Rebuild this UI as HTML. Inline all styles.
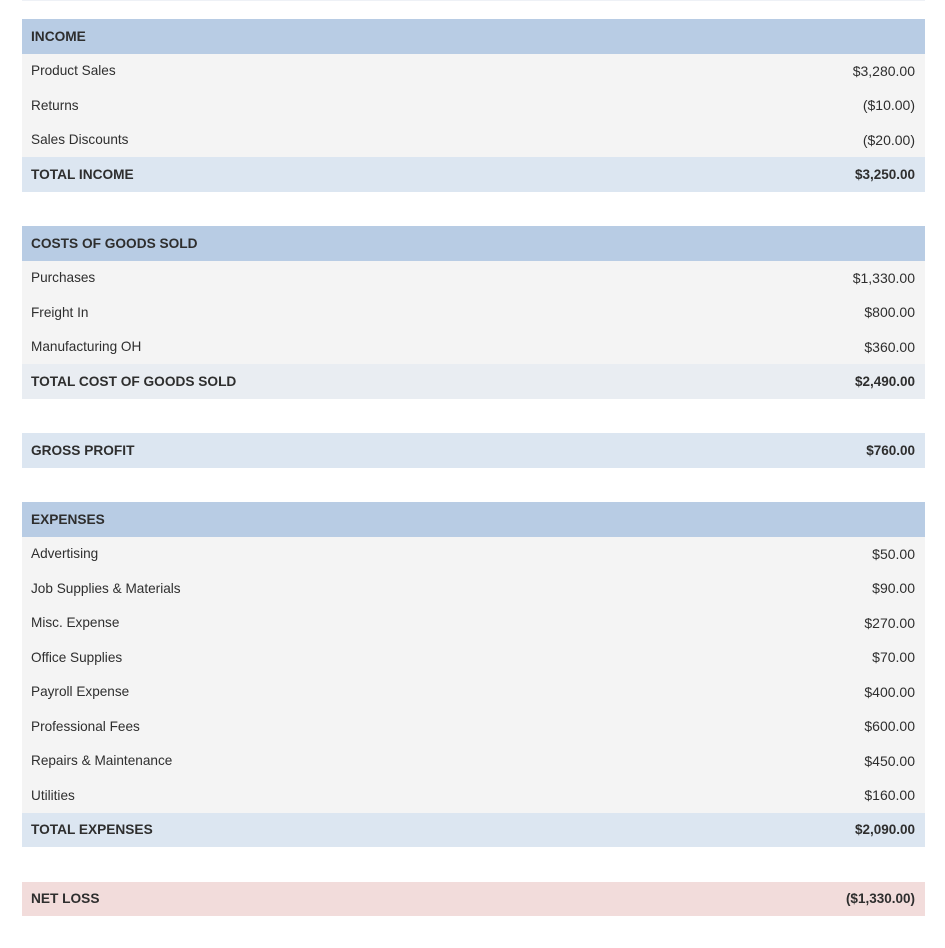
<!DOCTYPE html>
<html>
<head>
<meta charset="utf-8">
<style>
  html, body { margin:0; padding:0; background:#ffffff; }
  body { width:945px; height:948px; position:relative; overflow:hidden;
         font-family:"Liberation Sans", "DejaVu Sans", sans-serif; color:#2e2e2e; }
  .topline { position:absolute; left:22px; top:0; width:903px; height:1px; background:#eef1f6; }
  .tbl { position:absolute; left:22px; top:19px; width:903px; }
  .row { height:34.5px; display:flex; align-items:center; justify-content:space-between;
         padding:0 10px 0 9px; box-sizing:border-box; font-size:13.6px; background:#f4f4f4; }
  .row span:last-child { font-size:14px; }
  .hdr { background:#b8cce4; font-weight:bold; font-size:13.7px; }
  .tot { background:#dce6f1; font-weight:bold; font-size:13.7px; }
  .tot span:last-child, .loss span:last-child, .tot2 span:last-child { font-size:13.5px; }
  .tot2 { background:#e9edf2; font-weight:bold; font-size:13.7px; }
  .loss { background:#f2dcdb; font-weight:bold; font-size:13.7px; }
  .gap { height:34.5px; background:#ffffff; }
</style>
</head>
<body>
<div class="topline"></div>
<div class="tbl">
  <div class="row hdr"><span>INCOME</span><span></span></div>
  <div class="row"><span>Product Sales</span><span>$3,280.00</span></div>
  <div class="row"><span>Returns</span><span>($10.00)</span></div>
  <div class="row"><span>Sales Discounts</span><span>($20.00)</span></div>
  <div class="row tot"><span>TOTAL INCOME</span><span>$3,250.00</span></div>
  <div class="gap"></div>
  <div class="row hdr"><span>COSTS OF GOODS SOLD</span><span></span></div>
  <div class="row"><span>Purchases</span><span>$1,330.00</span></div>
  <div class="row"><span>Freight In</span><span>$800.00</span></div>
  <div class="row"><span>Manufacturing OH</span><span>$360.00</span></div>
  <div class="row tot2"><span>TOTAL COST OF GOODS SOLD</span><span>$2,490.00</span></div>
  <div class="gap"></div>
  <div class="row tot"><span>GROSS PROFIT</span><span>$760.00</span></div>
  <div class="gap"></div>
  <div class="row hdr"><span>EXPENSES</span><span></span></div>
  <div class="row"><span>Advertising</span><span>$50.00</span></div>
  <div class="row"><span>Job Supplies &amp; Materials</span><span>$90.00</span></div>
  <div class="row"><span>Misc. Expense</span><span>$270.00</span></div>
  <div class="row"><span>Office Supplies</span><span>$70.00</span></div>
  <div class="row"><span>Payroll Expense</span><span>$400.00</span></div>
  <div class="row"><span>Professional Fees</span><span>$600.00</span></div>
  <div class="row"><span>Repairs &amp; Maintenance</span><span>$450.00</span></div>
  <div class="row"><span>Utilities</span><span>$160.00</span></div>
  <div class="row tot"><span>TOTAL EXPENSES</span><span>$2,090.00</span></div>
  <div class="gap"></div>
  <div class="row loss"><span>NET LOSS</span><span>($1,330.00)</span></div>
</div>
</body>
</html>
